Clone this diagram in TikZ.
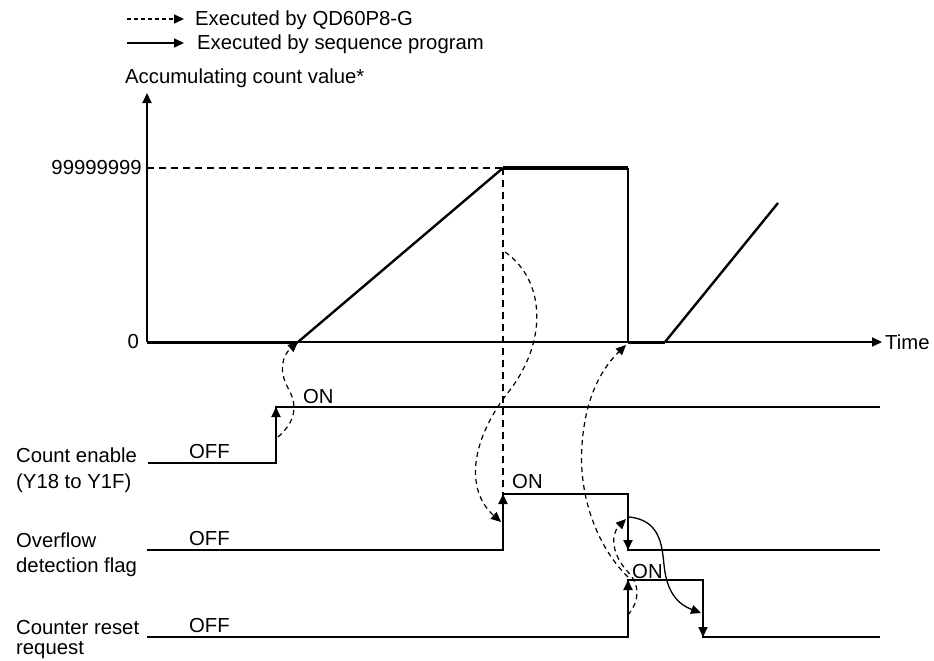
\documentclass[tikz,border=0pt]{standalone}
\usepackage{fontspec}
\setmainfont{Liberation Sans}
\usetikzlibrary{arrows.meta}
\begin{document}
\begin{tikzpicture}[x=1pt,y=-1pt,
  tipend/.style={-{Triangle[length=10pt,width=9pt]}},
  sig/.style={line width=1.8pt},
  guide/.style={line width=1.8pt,dash pattern=on 7pt off 5pt},
  qd/.style={line width=1.2pt,dash pattern=on 5pt off 4pt,-{Triangle[length=10pt,width=9pt]}},
  seq/.style={line width=1.3pt,-{Triangle[length=10pt,width=9pt]}},
  lbl/.style={font=\fontsize{20.3}{25}\selectfont,inner sep=0pt,anchor=base west},
  lblr/.style={font=\fontsize{20.3}{25}\selectfont,inner sep=0pt,anchor=base east}]
\useasboundingbox (0,0) rectangle (934,661);
\fill[white] (0,0) rectangle (934,661);

% legend
\coordinate (l1a) at (127,19); \coordinate (l1b) at (184,19);
\coordinate (l2a) at (127,43); \coordinate (l2b) at (184,43);
\draw[line width=1.5pt,dash pattern=on 4pt off 3pt,tipend] (l1a) -- (l1b);
\draw[line width=1.5pt,tipend] (l2a) -- (l2b);
\node[lbl] (leg1) at (195,26) {Executed by QD60P8-G};
\node[lbl] (leg2) at (197,50) {Executed by sequence program};
\node[lbl] (ytitle) at (125,84) {Accumulating count value*};

% axes
\coordinate (O) at (147,342);
\coordinate (ytop) at (147,93);
\coordinate (xend) at (882,342);
\draw[line width=1.8pt,tipend] (O) -- (ytop);
\draw[line width=1.8pt,tipend] (O) -- (xend);
\node[lbl,anchor=west] (time) at (885,342) {Time};
\node[lblr,anchor=east] (v99) at (142,168) {99999999};
\node[lblr,anchor=east] (v0) at (139,342) {0};

% count value
\coordinate (c0) at (298,342);
\coordinate (cTop) at (503,168);
\coordinate (cHold) at (628,168);
\coordinate (cDrop) at (628,342);
\coordinate (c2) at (665,342);
\coordinate (c3) at (778,203);
\coordinate (g99) at (147,168);
\draw[guide] (g99) -- (cTop);
\draw[guide] (cTop) -- (503,494);
\draw[line width=3pt] (O) -- (c0);
\draw[line width=2.4pt] (c0) -- (cTop);
\draw[line width=4pt] (cTop) -- (cHold);
\draw[line width=2.4pt] (cHold) -- (cDrop);
\draw[line width=3pt] (cDrop) -- (c2);
\draw[line width=2.4pt] (c2) -- (c3);

% signals
\coordinate (ceR0) at (276,463); \coordinate (ceR1) at (276,407);
\draw[sig] (148,463) -- (ceR0) -- (ceR1) -- (880,407);
\draw[sig,tipend] (ceR0) -- (ceR1);
\coordinate (ofR0) at (503,550); \coordinate (ofR1) at (503,494);
\coordinate (ofF0) at (628,494); \coordinate (ofF1) at (628,550);
\draw[sig] (147,550) -- (ofR0) -- (ofR1) -- (ofF0) -- (ofF1) -- (880,550);
\draw[sig,tipend] (ofR0) -- (ofR1);
\draw[sig,tipend] (ofF0) -- (ofF1);
\coordinate (rrR0) at (628,637); \coordinate (rrR1) at (628,580);
\coordinate (rrF0) at (703,580); \coordinate (rrF1) at (703,637);
\draw[sig] (147,637) -- (rrR0) -- (rrR1) -- (rrF0) -- (rrF1) -- (880,637);
\draw[sig,tipend] (rrR0) -- (rrR1);
\draw[sig,tipend] (rrF0) -- (rrF1);

% signal labels
\node[lbl] (ceOff) at (189,458) {OFF};
\node[lbl] (ceOn) at (303,403) {ON};
\node[lbl] (ofOff) at (189,545) {OFF};
\node[lbl] (ofOn) at (512,488) {ON};
\node[lbl] (rrOff) at (189,632) {OFF};
\node[lbl] (rrOn) at (632,578) {ON};
\node[lbl] (ceName) at (16,462) {Count enable};
\node[lbl] (ceName2) at (16,488) {(Y18 to Y1F)};
\node[lbl] (ofName) at (16,547) {Overflow};
\node[lbl] (ofName2) at (16,572) {detection flag};
\node[lbl] (rrName) at (16,634) {Counter reset};
\node[lbl] (rrName2) at (16,654) {request};

% causal curves
\draw[qd] (278,437) .. controls (300,418) and (295,400) .. (288,388)
          .. controls (278,370) and (283,355) .. (c0);
\draw[qd] (505,252) .. controls (545,280) and (548,340) .. (510,390)
          .. controls (470,440) and (465,490) .. (501,522);
\draw[qd] (628,577) .. controls (600,550) and (578,500) .. (582,445)
          .. controls (585,400) and (600,370) .. (626,345);
\draw[qd] (628,615) .. controls (640,600) and (640,585) .. (628,572)
          .. controls (612,555) and (610,535) .. (626,519);
\draw[seq] (629,517) .. controls (660,520) and (662,545) .. (664,565)
          .. controls (667,595) and (680,605) .. (701,613);
\end{tikzpicture}
\end{document}
